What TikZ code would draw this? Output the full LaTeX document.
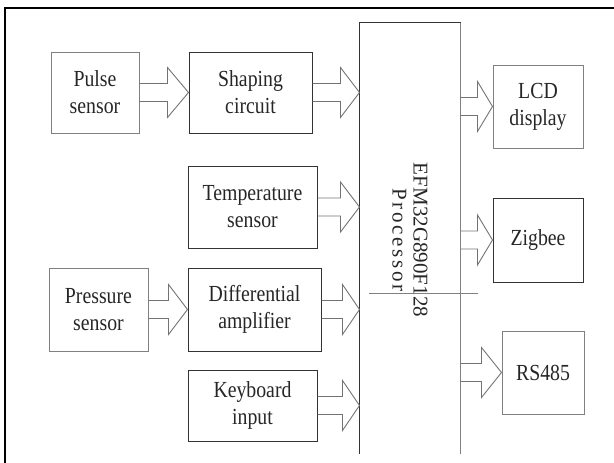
\documentclass[tikz,border=0pt]{standalone}
\usepackage{fontspec}
\setmainfont{Liberation Serif}
\newfontfamily\boxfont[FakeStretch=0.86]{Liberation Serif}
\newfontfamily\chipfont{Liberation Serif}
\newfontfamily\chipwide[LetterSpace=13]{Liberation Serif}
\usetikzlibrary{calc}

% hollow block arrow: head length, start point, tip point (same height)
\newcommand{\fatarrow}[3]{%
  \draw[arrowline] let \p1=#2, \p2=#3 in
    (\x1,\y1+9pt) -- (\x2-#1pt,\y1+9pt) -- (\x2-#1pt,\y1+25pt) -- (\x2,\y1)
    -- (\x2-#1pt,\y1-25pt) -- (\x2-#1pt,\y1-9pt) -- (\x1,\y1-9pt);}

\begin{document}
\begin{tikzpicture}[
                x=1pt,y=-1pt,
                line width=1pt,
                block/.style={draw=black!80,align=center,inner sep=0pt,text=black!85,
                              font=\boxfont\fontsize{23}{27}\selectfont},
                pale/.style={block,draw=black!50},
                arrowline/.style={draw=black!55,line width=0.9pt}] %

\useasboundingbox (0,0) rectangle (614,463);

% frame
\draw[line width=2.5pt] (5,463) -- (5,8) -- (614,8);

                    % inputs, top row
                    \node[pale,minimum width=88pt,minimum height=81pt] (pulse) at (95,92.5) {Pulse\\sensor}; % 1
                    \node[block,minimum width=123pt,minimum height=81pt] (shaping) at (250.5,92.5) {Shaping\\circuit}; % 2

                    \node[block,minimum width=129pt,minimum height=82pt] (temp) at (252.5,207) {Temperature\\sensor}; % 3

                    \node[pale,minimum width=99pt,minimum height=83pt] (pressure) at (98.5,309.5) {Pressure\\sensor}; % 4
                    \node[block,minimum width=133pt,minimum height=83pt] (diffamp) at (254.5,309.5) {Differential\\amplifier}; % 5

                    \node[block,minimum width=129pt,minimum height=71pt] (keyboard) at (252.5,405.5) {Keyboard\\input}; % 6


 % processor, open at the bottom
                    \node[minimum width=100pt,minimum height=430pt,inner sep=0pt] (proc) at (410,238) {};
                    \draw[draw=black!80] (proc.south west) -- (proc.north west) -- (proc.north east);
                    \draw[draw=black!50] (proc.north east) -- (proc.south east);
                    \node[rotate=-90,align=center,text=black!85,
                          font=\chipfont\fontsize{21}{21}\selectfont] (chiptext) at (410,240)
                          {EFM32G890F128\\{\chipwide Processor}};
                    \draw[draw=black!50] (369,293) -- (478,293);


                    % outputs
                    \node[pale,minimum width=90pt,minimum height=83pt] (lcd) at (538,106.5) {LCD\\display}; % 1
                    \node[block,minimum width=90pt,minimum height=84pt] (zigbee) at (538,240) {Zigbee}; % 2
                    \node[pale,minimum width=82pt,minimum height=83pt] (rs) at (543,372.5) {RS485}; % 3


 % arrows in
                    \fatarrow{21}{(pulse.east)}{(shaping.west)}
                    \fatarrow{19}{(shaping.east)}{(shaping.east -| proc.west)}
                    \fatarrow{19}{(temp.east)}{(temp.east -| proc.west)}
                    \fatarrow{19}{(pressure.east)}{(diffamp.west)}
                    \fatarrow{17}{(diffamp.east)}{(diffamp.east -| proc.west)}
                    \fatarrow{17}{(keyboard.east)}{(keyboard.east -| proc.west)}

 % arrows out
                    \fatarrow{15}{(lcd.west -| proc.east)}{(lcd.west)}
                    \fatarrow{15}{(zigbee.west -| proc.east)}{(zigbee.west)}
                    \fatarrow{20}{(rs.west -| proc.east)}{(rs.west)}

                    \end{tikzpicture}
\end{document}
